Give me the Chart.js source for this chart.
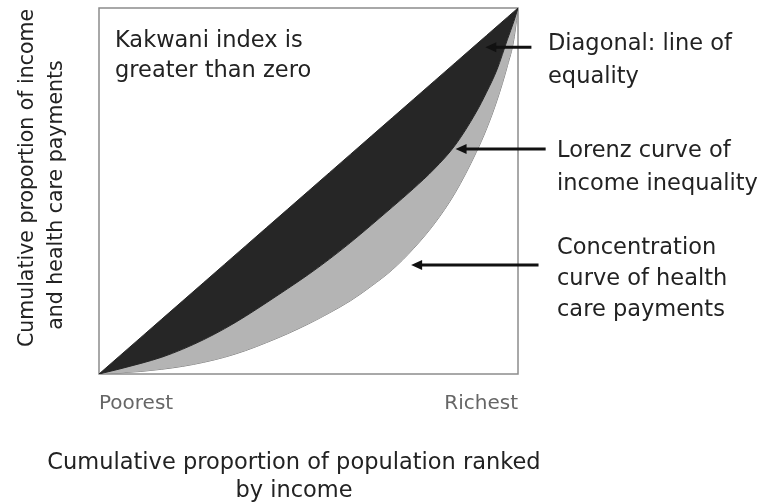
<!DOCTYPE html>
<html>
<head>
<meta charset="utf-8">
<title>Kakwani index</title>
<script src="https://cdn.jsdelivr.net/npm/chart.js@4.4.0/dist/chart.umd.min.js"></script>
<style>
  html, body { margin: 0; padding: 0; background: #fff; }
  #wrap { width: 758px; height: 502px; }
</style>
</head>
<body>
<div id="wrap"><canvas id="kakwaniChart" width="758" height="502"></canvas></div>
<script>
// Cumulative share of population (ranked by income) where the curves were read
const popShare = [0, 0.05, 0.1, 0.15, 0.2, 0.25, 0.3, 0.35, 0.4, 0.45, 0.5, 0.55, 0.6, 0.65, 0.7, 0.75, 0.8, 0.85, 0.9, 0.925, 0.95, 0.975, 0.99, 1];
// Diagonal: line of equality
const equalityLine = [0, 0.05, 0.1, 0.15, 0.2, 0.25, 0.3, 0.35, 0.4, 0.45, 0.5, 0.55, 0.6, 0.65, 0.7, 0.75, 0.8, 0.85, 0.9, 0.925, 0.95, 0.975, 0.99, 1];
// Lorenz curve of income
const lorenzIncome = [0, 0.014, 0.029, 0.046, 0.068, 0.094, 0.124, 0.158, 0.195, 0.233, 0.272, 0.314, 0.359, 0.407, 0.456, 0.506, 0.560, 0.625, 0.715, 0.770, 0.832, 0.915, 0.963, 1];
// Concentration curve of health care payments
const concentrationPayments = [0, 0.003, 0.007, 0.013, 0.021, 0.032, 0.046, 0.064, 0.086, 0.110, 0.137, 0.167, 0.200, 0.240, 0.285, 0.342, 0.410, 0.495, 0.605, 0.670, 0.748, 0.843, 0.913, 1];

const tickValues = [0, 1];
const tickLabels = ['Poorest', 'Richest'];
const xTitle = ['Cumulative proportion of population ranked', 'by income'];
const yTitle = ['Cumulative proportion of income', 'and health care payments'];

const FONT = '"DejaVu Sans", Verdana, sans-serif';

function toPoints(ys) {
    return popShare.map((x, i) => ({ x: x, y: ys[i] }));
}

// frame round the plot, axis titles, arrows and the explanatory notes
const notesPlugin = {
    id: 'notes',
    beforeDatasetsDraw(chart) {
        const { ctx, chartArea: a } = chart;
        ctx.save();
        ctx.strokeStyle = '#8c8c8c';
        ctx.lineWidth = 1.5;
        ctx.strokeRect(a.left, a.top, a.right - a.left, a.bottom - a.top);
        ctx.restore();
    },
    afterDatasetsDraw(chart) {
        const { ctx, chartArea: a, scales: { x, y } } = chart;
        ctx.save();

        // arrows point at the curves (data coordinates)
        const arrows = [
            { from: [1.032, 0.893], to: [0.922, 0.893] },
            { from: [1.066, 0.615], to: [0.851, 0.615] },
            { from: [1.049, 0.298], to: [0.745, 0.298] }
        ];
        ctx.strokeStyle = '#111';
        ctx.fillStyle = '#111';
        ctx.lineWidth = 3;
        arrows.forEach(ar => {
            const x0 = x.getPixelForValue(ar.from[0]);
            const y0 = y.getPixelForValue(ar.from[1]);
            const x1 = x.getPixelForValue(ar.to[0]);
            const y1 = y.getPixelForValue(ar.to[1]);
            ctx.beginPath();
            ctx.moveTo(x0, y0);
            ctx.lineTo(x1 + 8, y1);
            ctx.stroke();
            ctx.beginPath();
            ctx.moveTo(x1, y1);
            ctx.lineTo(x1 + 11, y1 - 5);
            ctx.lineTo(x1 + 11, y1 + 5);
            ctx.closePath();
            ctx.fill();
        });

        // text notes
        const notes = [
            { lines: ['Kakwani index is', 'greater than zero'], left: a.left + 16, top: 47, step: 30 },
            { lines: ['Diagonal: line of', 'equality'], left: a.right + 30, top: 50, step: 32.5 },
            { lines: ['Lorenz curve of', 'income inequality'], left: a.right + 39, top: 157, step: 33 },
            { lines: ['Concentration', 'curve of health', 'care payments'], left: a.right + 39, top: 254, step: 31 }
        ];
        ctx.fillStyle = '#222';
        ctx.font = '22.5px ' + FONT;
        ctx.textAlign = 'left';
        ctx.textBaseline = 'alphabetic';
        notes.forEach(n => {
            n.lines.forEach((t, i) => ctx.fillText(t, n.left, n.top + i * n.step));
        });

        // x axis title (wider than the plot, so drawn here)
        ctx.textAlign = 'center';
        ctx.fillText(xTitle[0], 294, 469);
        ctx.fillText(xTitle[1], 294, 497);

        // y axis title, rotated
        ctx.font = '20.5px ' + FONT;
        ctx.textBaseline = 'middle';
        const yCenters = [[28, 178], [57, 195]];
        yTitle.forEach((t, i) => {
            ctx.save();
            ctx.translate(yCenters[i][0], yCenters[i][1]);
            ctx.rotate(-Math.PI / 2);
            ctx.fillText(t, 0, 0);
            ctx.restore();
        });
        ctx.restore();
    }
};

const ctx = document.getElementById('kakwaniChart');
new Chart(ctx, {
    type: 'line',
    data: {
        datasets: [{
            label: 'Diagonal: line of equality',
            data: toPoints(equalityLine),
            borderColor: '#262626',
            borderWidth: 1,
            backgroundColor: '#262626',
            fill: '+1',
            pointRadius: 0
        }, {
            label: 'Lorenz curve of income inequality',
            data: toPoints(lorenzIncome),
            borderColor: '#262626',
            borderWidth: 1,
            backgroundColor: '#b4b4b4',
            fill: '+1',
            pointRadius: 0,
            cubicInterpolationMode: 'monotone'
        }, {
            label: 'Concentration curve of health care payments',
            data: toPoints(concentrationPayments),
            borderColor: '#7a7a7a',
            borderWidth: 1,
            fill: false,
            pointRadius: 0,
            cubicInterpolationMode: 'monotone'
        }]
    },
    options: {
        responsive: false,
        animation: false,
        layout: { padding: { top: 8, right: 240, bottom: 0, left: 0 } },
        plugins: {
            legend: { display: false },
            tooltip: { enabled: false },
            title: { display: false }
        },
        scales: {
            x: {
                type: 'linear',
                min: 0,
                max: 1,
                grid: { display: false, drawTicks: false },
                border: { display: false },
                afterBuildTicks: axis => { axis.ticks = tickValues.map(v => ({ value: v })); },
                afterFit: axis => { axis.height = 128; },
                ticks: {
                    align: 'inner',
                    padding: 18,
                    color: '#666',
                    font: { family: FONT, size: 20 },
                    callback: (value, index) => tickLabels[index]
                }
            },
            y: {
                type: 'linear',
                min: 0,
                max: 1,
                grid: { display: false, drawTicks: false },
                border: { display: false },
                ticks: { display: false },
                afterFit: axis => { axis.width = 99; }
            }
        }
    },
    plugins: [notesPlugin]
});
</script>
</body>
</html>
